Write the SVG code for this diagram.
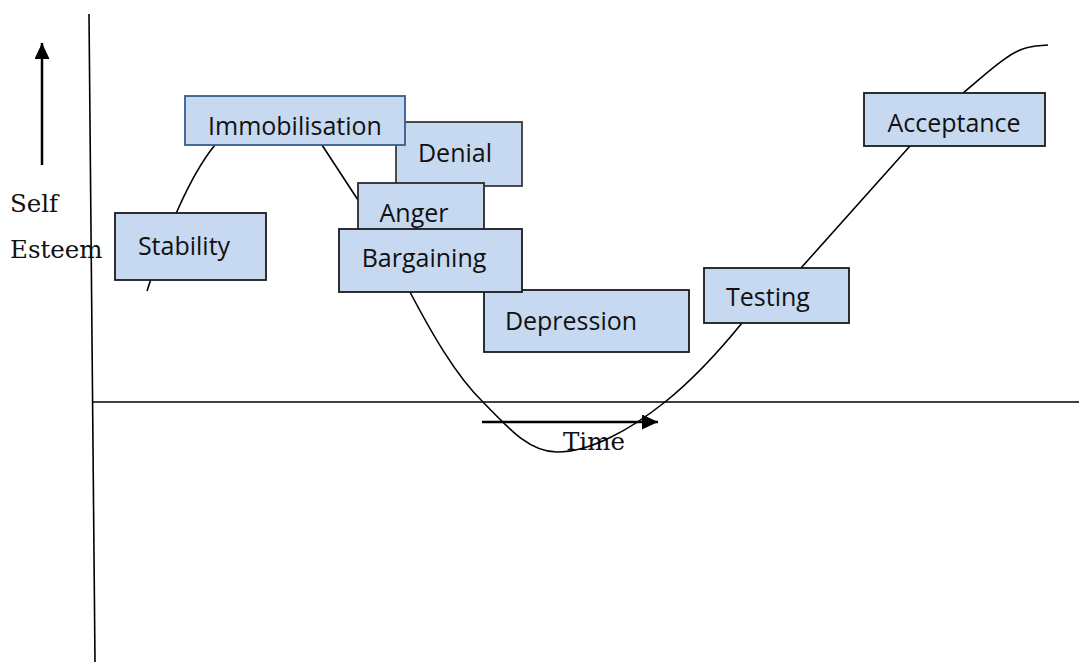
<svg xmlns="http://www.w3.org/2000/svg" width="1079" height="666" viewBox="0 0 1079 666">
<defs>
<marker id="ah" viewBox="0 0 16 15" refX="16" refY="7.5" markerWidth="16" markerHeight="15" markerUnits="userSpaceOnUse" orient="auto">
<path d="M0,0 L16,7.5 L0,15 Z" fill="#000"/>
</marker>
<style>
.box{fill:#c6d9f1;stroke:#1a1a1a;stroke-width:1.8}
.lbl{font-family:"Open Sans","DejaVu Sans",sans-serif;font-size:25px;fill:#111;text-anchor:middle}
.ser{font-family:"DejaVu Serif","Liberation Serif",serif;font-size:24.5px;fill:#111}
.ln{fill:none;stroke:#000;stroke-width:1.6}
</style>
</defs>
<rect width="1079" height="666" fill="#fff"/>
<g id="axes">
<line class="ln" x1="89" y1="14" x2="95" y2="662"/>
<line class="ln" x1="93" y1="402" x2="1079" y2="402"/>
<line x1="42" y1="165" x2="42" y2="43" stroke="#000" stroke-width="2.5" marker-end="url(#ah)"/>
<line x1="482" y1="422" x2="658" y2="422" stroke="#000" stroke-width="2.5" marker-end="url(#ah)"/>
<text class="ser" x="10" y="212">Self</text>
<text class="ser" x="10" y="258">Esteem</text>
<text class="ser" x="563" y="450">Time</text>
</g>
<g id="connectors">
<path class="ln" d="M147,291 C165,235 190,175 215,145 C240,112 300,112 322,145 C335,165 345,180 358,200 C375,230 395,265 410,292 C430,330 455,375 483,402 C510,430 530,452 557,452 C590,452 630,430 665,402 C690,382 720,350 742,323 C760,303 785,285 801,268 L910,146 C930,125 945,108 963,93 C985,75 1010,50 1030,47 C1040,45 1042,46 1048,45"/>
</g>
<g id="stability"><rect class="box" x="115" y="213" width="151" height="67"/><text class="lbl" x="184" y="255">Stability</text></g>
<g id="denial"><rect class="box" x="396" y="122" width="126" height="64" style="stroke:#3a3a3a"/><text class="lbl" x="455" y="162">Denial</text></g>
<g id="immobilisation"><rect class="box" x="185" y="96" width="220" height="49" style="stroke:#385d8a"/><text class="lbl" x="295" y="135">Immobilisation</text></g>
<g id="anger"><rect class="box" x="358" y="183" width="126" height="60" style="stroke:#2a2a2a"/><text class="lbl" x="414" y="222">Anger</text></g>
<g id="depression"><rect class="box" x="484" y="290" width="205" height="62"/><text class="lbl" x="571" y="330">Depression</text></g>
<g id="bargaining"><rect class="box" x="339" y="229" width="183" height="63"/><text class="lbl" x="424" y="267">Bargaining</text></g>
<g id="testing"><rect class="box" x="704" y="268" width="145" height="55"/><text class="lbl" x="768" y="306">Testing</text></g>
<g id="acceptance"><rect class="box" x="864" y="93" width="181" height="53"/><text class="lbl" x="954" y="132">Acceptance</text></g>
</svg>
